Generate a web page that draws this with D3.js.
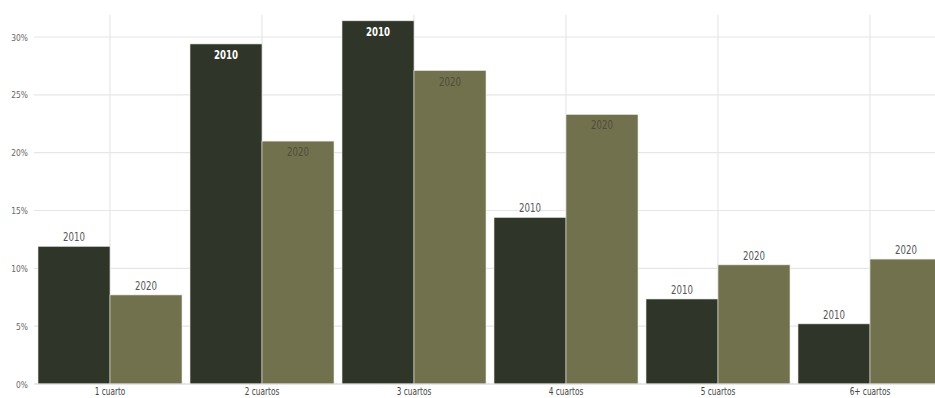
<!DOCTYPE html>
<html><head><meta charset="utf-8">
<script src="https://cdn.jsdelivr.net/npm/d3@7"></script>
<style>body{margin:0;background:#fff}svg{display:block}text{font-family:"DejaVu Sans Condensed","DejaVu Sans",sans-serif}</style>
</head><body>
<svg id="c" width="935" height="398"></svg>
<script>
const categories = ["1 cuarto","2 cuartos","3 cuartos","4 cuartos","5 cuartos","6+ cuartos"];
const series = ["2010","2020"];
const values2010 = [11.9, 29.4, 31.4, 14.4, 7.35, 5.2];
const values2020 = [7.7, 21.0, 27.1, 23.3, 10.3, 10.8];
const yTicks = [0,5,10,15,20,25,30];

(function(){
const svg = d3.select("#c");
const mTop = 15, mBottom = 384, mLeft = 34, mRight = 946;
const x = d3.scaleBand().domain(categories).range([mLeft, mRight]).paddingInner(8/152).paddingOuter(4/152);
const xs = d3.scaleBand().domain(series).range([0, x.bandwidth()]);
const y = d3.scaleLinear().domain([0, 30]).range([mBottom, 37]);
const colors = {"2010":"#2f3629","2020":"#72714e"};
const valsBy = {"2010":values2010,"2020":values2020};

svg.append("g").selectAll("line").data(yTicks).join("line")
  .attr("x1", mLeft).attr("x2", 935).attr("y1", d=>y(d)).attr("y2", d=>y(d))
  .attr("stroke","#e6e6e8").attr("stroke-width",1.2);
svg.append("g").selectAll("line").data(categories).join("line")
  .attr("x1", d=>x(d)+x.bandwidth()/2).attr("x2", d=>x(d)+x.bandwidth()/2)
  .attr("y1", mTop).attr("y2", mBottom)
  .attr("stroke","#e6e6e8").attr("stroke-width",1.2);

const yAxis = d3.axisLeft(y).tickValues(yTicks).tickFormat(d=>d+"%").tickSize(0).tickPadding(0);
const ga = svg.append("g").attr("transform",`translate(${mLeft},0)`).call(yAxis);
ga.select(".domain").remove();
ga.selectAll("text").attr("x",0).attr("font-size",9.5).attr("fill","#666")
  .attr("transform","translate(-6,0) scale(0.88,1)");

const xAxis = d3.axisBottom(x).tickSize(0).tickPadding(4);
const gx = svg.append("g").attr("transform",`translate(0,${mBottom})`).call(xAxis);
gx.select(".domain").remove();
gx.selectAll("text").attr("font-size",10).attr("fill","#444").attr("transform","scale(0.82,1)");

const data = [];
categories.forEach((c,i)=>series.forEach(s=>data.push({c,s,v:valsBy[s][i]})));
svg.append("g").selectAll("rect").data(data).join("rect")
  .attr("x", d=>x(d.c)+xs(d.s)).attr("width", xs.bandwidth())
  .attr("y", d=>y(d.v)).attr("height", d=>mBottom-y(d.v))
  .attr("fill", d=>colors[d.s]).attr("stroke","#e8e8e0").attr("stroke-width",0.6);

svg.append("line").attr("x1",mLeft).attr("x2",935).attr("y1",mBottom).attr("y2",mBottom).attr("stroke","#ddd");

svg.append("g").selectAll("text").data(data).join("text")
  .attr("transform", d=>`translate(${x(d.c)+xs(d.s)+xs.bandwidth()/2},${d.v > 20 ? y(d.v)+15 : y(d.v)-5}) scale(0.8,1)`)
  .attr("text-anchor","middle").attr("font-size",12)
  .attr("font-weight", d=> d.v>20 && d.s==="2010" ? "bold" : "normal")
  .attr("fill", d=> d.v>20 ? (d.s==="2010" ? "#ffffff" : "#4e4d3a") : "#555")
  .text(d=>d.s);
})();
</script>
</body></html>
